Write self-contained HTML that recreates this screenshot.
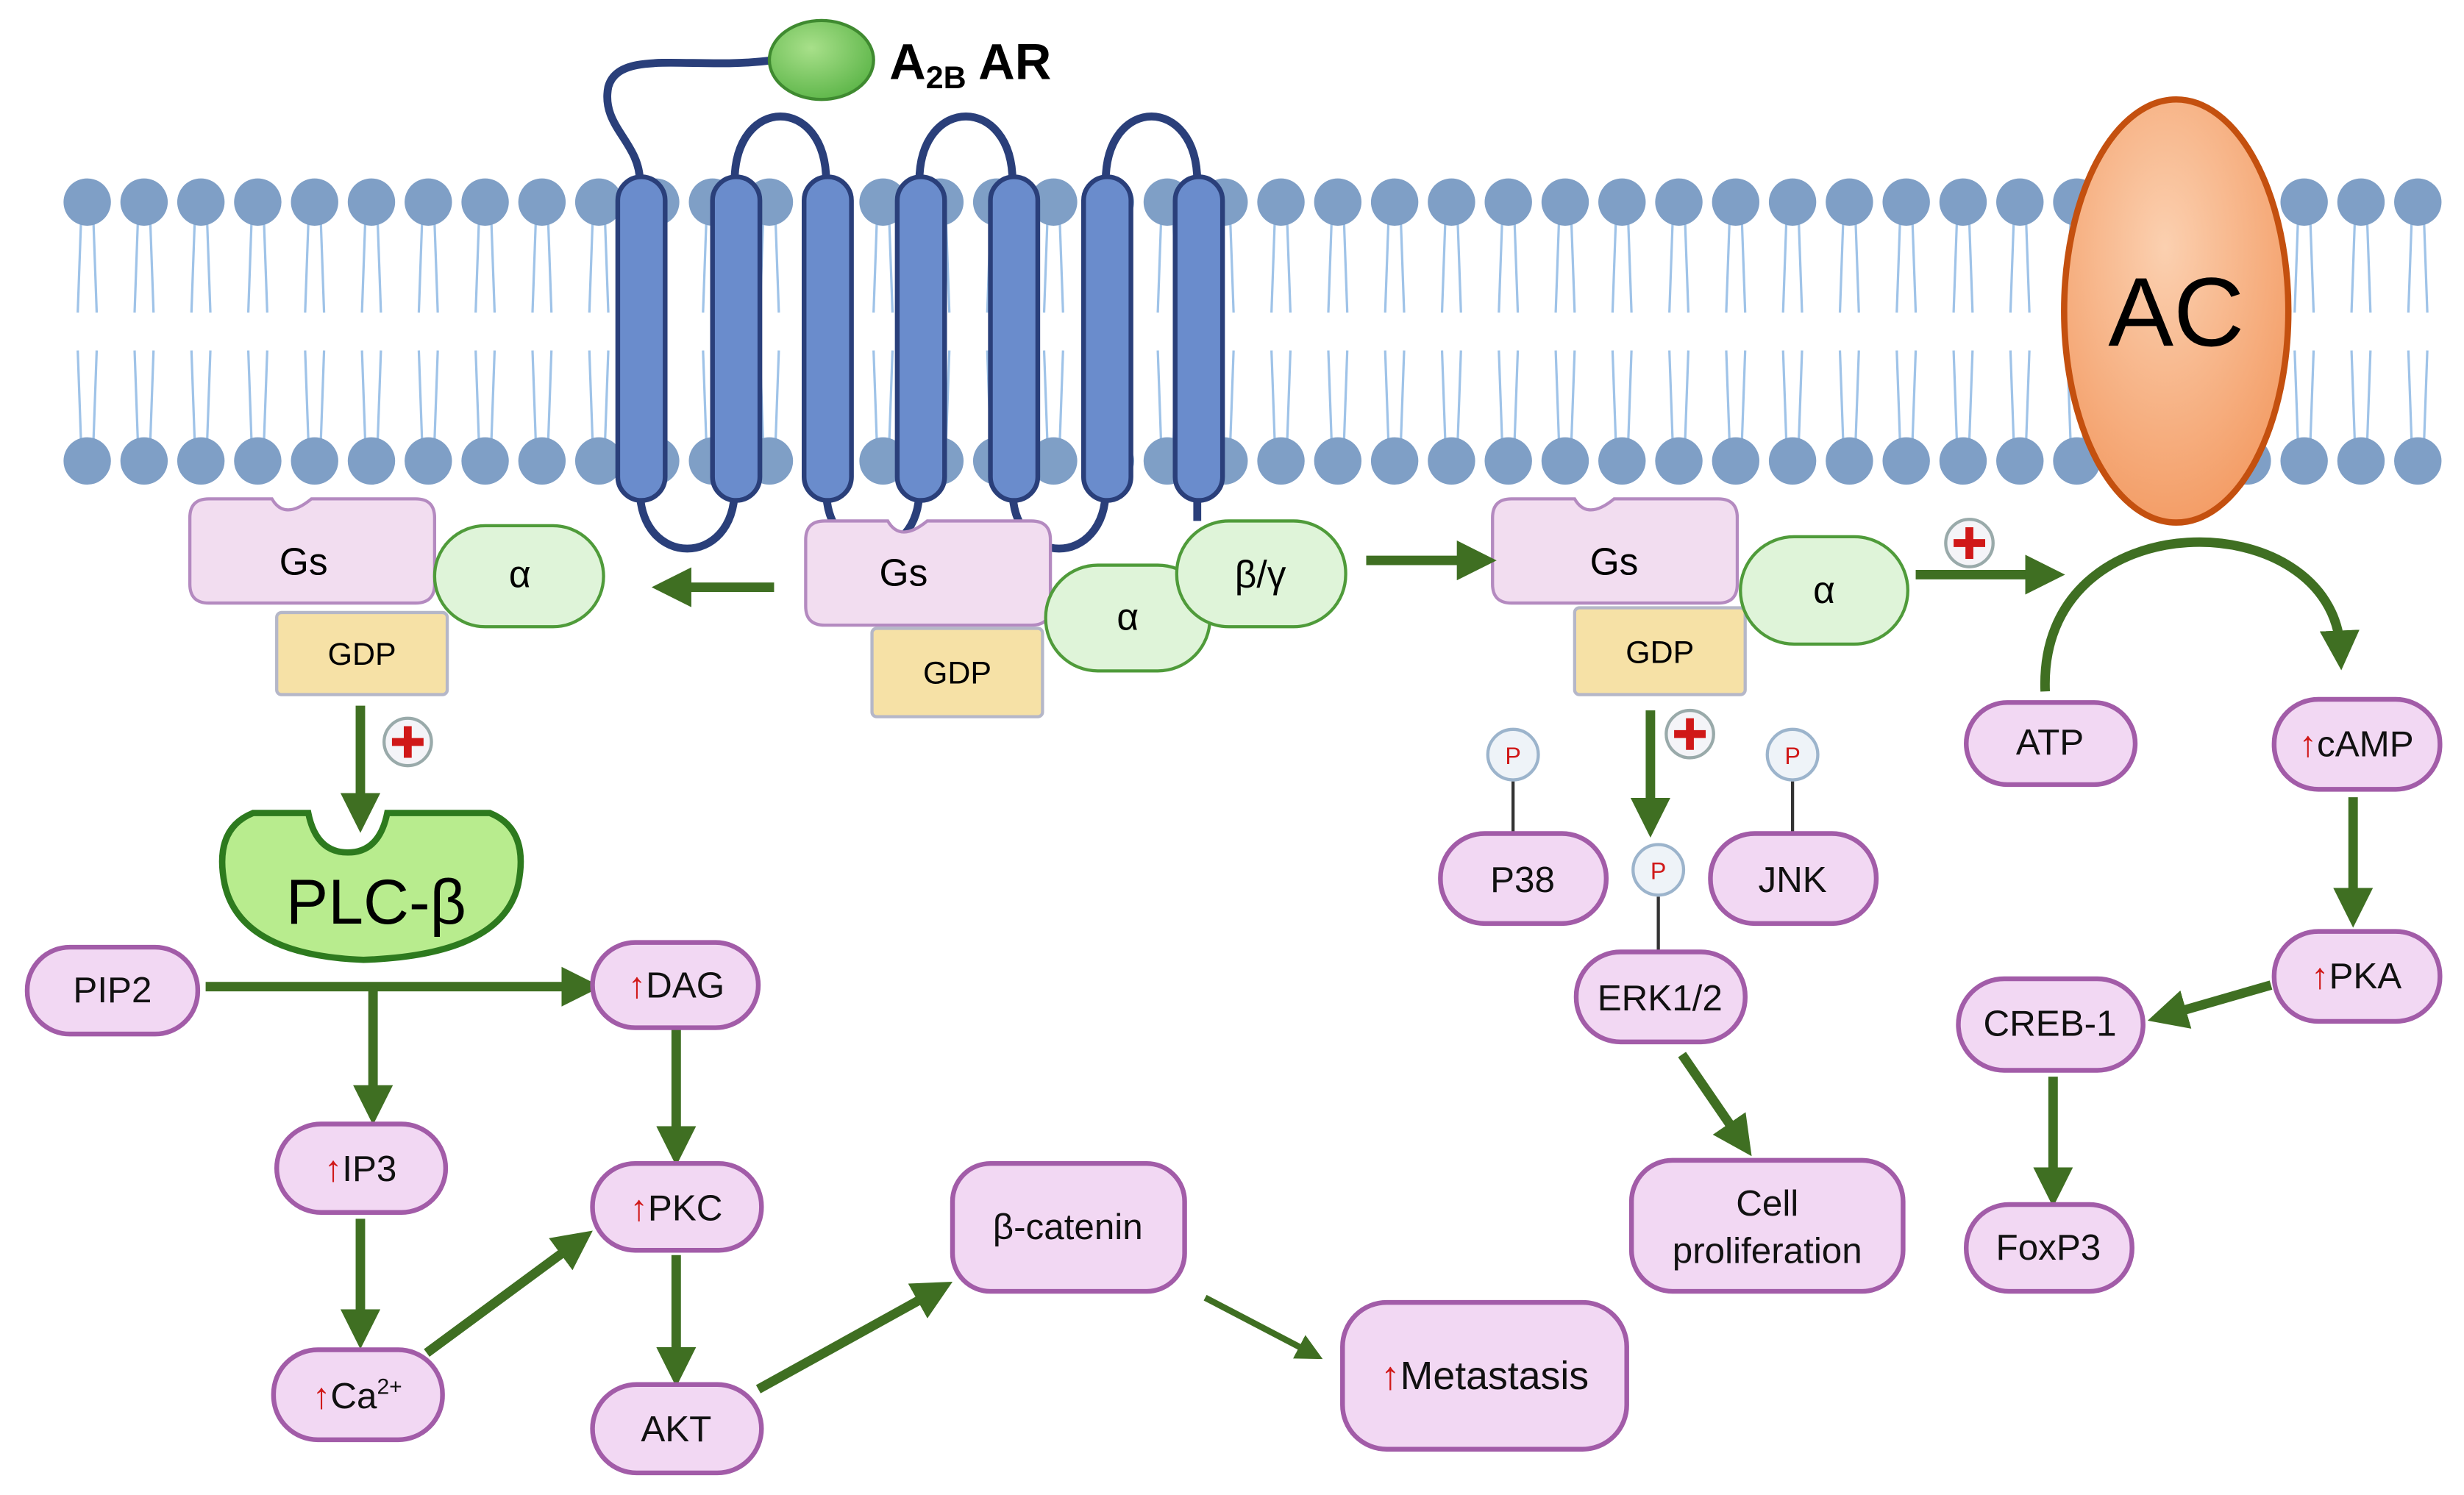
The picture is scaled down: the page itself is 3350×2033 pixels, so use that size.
<!DOCTYPE html>
<html><head><meta charset="utf-8"><style>
html,body{margin:0;padding:0;background:#fff;}
svg{display:block;}
text{font-family:"Liberation Sans",sans-serif;}
.r{fill:#d01818;font-weight:bold;}
</style></head><body>
<svg width="3350" height="2033" viewBox="0 0 1560 947" xmlns="http://www.w3.org/2000/svg">
<defs>
<marker id="ah" viewBox="0 0 10 10" refX="5" refY="5" markerWidth="4.2" markerHeight="4.2" orient="auto-start-reverse" markerUnits="strokeWidth"><path d="M0,0 L10,5 L0,10 z" fill="#3f6f22"/></marker>
<radialGradient id="acg" cx="0.45" cy="0.35" r="0.7"><stop offset="0" stop-color="#fbd0b0"/><stop offset="1" stop-color="#f39a62"/></radialGradient>
<radialGradient id="gb" cx="0.4" cy="0.35" r="0.7"><stop offset="0" stop-color="#a8e08a"/><stop offset="1" stop-color="#5cb548"/></radialGradient>
<g id="lip">
<line x1="-4" y1="14" x2="-6" y2="70" stroke="#9fc3e8" stroke-width="1.5"/>
<line x1="4" y1="14" x2="6" y2="70" stroke="#9fc3e8" stroke-width="1.5"/>
<line x1="-4" y1="150" x2="-6" y2="94" stroke="#9fc3e8" stroke-width="1.5"/>
<line x1="4" y1="150" x2="6" y2="94" stroke="#9fc3e8" stroke-width="1.5"/>
<circle cx="0" cy="0" r="15" fill="#7f9fc6"/>
<circle cx="0" cy="164" r="15" fill="#7f9fc6"/>
</g>
</defs>
<g transform="translate(0,128)">
<use href="#lip" x="55"/><use href="#lip" x="91"/><use href="#lip" x="127"/><use href="#lip" x="163"/><use href="#lip" x="199"/><use href="#lip" x="235"/><use href="#lip" x="271"/><use href="#lip" x="307"/><use href="#lip" x="343"/><use href="#lip" x="379"/><use href="#lip" x="415"/><use href="#lip" x="451"/><use href="#lip" x="487"/><use href="#lip" x="523"/><use href="#lip" x="559"/><use href="#lip" x="595"/><use href="#lip" x="631"/><use href="#lip" x="667"/><use href="#lip" x="703"/><use href="#lip" x="739"/><use href="#lip" x="775"/><use href="#lip" x="811"/><use href="#lip" x="847"/><use href="#lip" x="883"/><use href="#lip" x="919"/><use href="#lip" x="955"/><use href="#lip" x="991"/><use href="#lip" x="1027"/><use href="#lip" x="1063"/><use href="#lip" x="1099"/><use href="#lip" x="1135"/><use href="#lip" x="1171"/><use href="#lip" x="1207"/><use href="#lip" x="1243"/><use href="#lip" x="1279"/><use href="#lip" x="1315"/><use href="#lip" x="1351"/><use href="#lip" x="1387"/><use href="#lip" x="1423"/><use href="#lip" x="1459"/><use href="#lip" x="1495"/><use href="#lip" x="1531"/>
</g>
<g fill="none" stroke="#2a3f7a" stroke-width="5">
<path d="M405 115 C405 90 380 80 385 55 C392 30 440 45 490 38"/>
<path d="M465 115 C465 60 523 60 523 115"/>
<path d="M582 115 C582 60 641 60 641 115"/>
<path d="M700 115 C700 60 758 60 758 115"/>
<path d="M405 310 C405 360 465 360 465 310"/>
<path d="M523 310 C523 360 582 360 582 310"/>
<path d="M641 310 C641 360 700 360 700 310"/>
<path d="M758 310 L758 330"/>
</g>
<g fill="#6a8ccc" stroke="#2a3f7a" stroke-width="3">
<rect x="391" y="112" width="30" height="205" rx="15"/>
<rect x="451" y="112" width="30" height="205" rx="15"/>
<rect x="509" y="112" width="30" height="205" rx="15"/>
<rect x="568" y="112" width="30" height="205" rx="15"/>
<rect x="627" y="112" width="30" height="205" rx="15"/>
<rect x="686" y="112" width="30" height="205" rx="15"/>
<rect x="744" y="112" width="30" height="205" rx="15"/>
</g>
<ellipse cx="520" cy="38" rx="33" ry="25" fill="url(#gb)" stroke="#3f8a30" stroke-width="2"/>
<text x="563" y="50" font-size="32" font-weight="bold">A<tspan font-size="20" dy="6">2B</tspan><tspan dy="-6"> AR</tspan></text>
<ellipse cx="1378" cy="197" rx="71" ry="134" fill="url(#acg)" stroke="#c4500f" stroke-width="4"/>
<text x="1378" y="219" font-size="62" text-anchor="middle">AC</text>

<g stroke="#b48ac0" stroke-width="2" fill="#f2ddf0">
<path d="M120 328 q0 -12 12 -12 h40 q8 14 25 0 h66 q12 0 12 12 v42 q0 12 -12 12 h-131 q-12 0 -12 -12z"/>
<path d="M510 342 q0 -12 12 -12 h40 q8 14 25 0 h66 q12 0 12 12 v42 q0 12 -12 12 h-131 q-12 0 -12 -12z"/>
<path d="M945 328 q0 -12 12 -12 h40 q8 14 25 0 h66 q12 0 12 12 v42 q0 12 -12 12 h-131 q-12 0 -12 -12z"/>
</g>
<g fill="#f6e1a6" stroke="#b5b7c8" stroke-width="2">
<rect x="175" y="388" width="108" height="52" rx="3"/>
<rect x="552" y="398" width="108" height="56" rx="3"/>
<rect x="997" y="385" width="108" height="55" rx="3"/>
</g>
<g fill="#dff4d9" stroke="#4f9b3a" stroke-width="2">
<rect x="275" y="333" width="107" height="64" rx="32"/>
<rect x="662" y="358" width="104" height="67" rx="33"/>
<rect x="745" y="330" width="107" height="67" rx="33"/>
<rect x="1102" y="340" width="106" height="68" rx="34"/>
</g>
<g font-size="24" text-anchor="middle">
<text x="192" y="364">Gs</text><text x="572" y="371">Gs</text><text x="1022" y="364">Gs</text>
<text x="329" y="372">α</text><text x="714" y="399">α</text><text x="798" y="372">β/γ</text><text x="1155" y="382">α</text>
<text x="229" y="421" font-size="20">GDP</text><text x="606" y="433" font-size="20">GDP</text><text x="1051" y="420" font-size="20">GDP</text>
</g>

<path d="M160 515 q-25 10 -18 45 q10 45 88 48 q88 -3 98 -48 q7 -35 -18 -45 h-65 q-5 25 -25 25 q-20 0 -25 -25z" fill="#b8ec8e" stroke="#2d7a1e" stroke-width="4"/>
<text x="238" y="585" font-size="40" text-anchor="middle">PLC-β</text>

<g stroke="#3f6f22" stroke-width="6" fill="none" marker-end="url(#ah)">
<line x1="490" y1="372" x2="425" y2="372"/>
<line x1="865" y1="355" x2="935" y2="355"/>
<line x1="1213" y1="364" x2="1295" y2="364"/>
<path d="M1295 438 C1290 315 1478 318 1482 412"/>
<line x1="228" y1="447" x2="228" y2="515"/>
<line x1="130" y1="625" x2="368" y2="625"/>
<line x1="236" y1="625" x2="236" y2="700"/>
<line x1="428" y1="652" x2="428" y2="726"/>
<line x1="228" y1="772" x2="228" y2="842"/>
<line x1="270" y1="857" x2="365" y2="787"/>
<line x1="428" y1="795" x2="428" y2="866"/>
<line x1="480" y1="880" x2="592" y2="818"/>
<line x1="1045" y1="450" x2="1045" y2="518"/>
<line x1="1065" y1="668" x2="1102" y2="722"/>
<line x1="1490" y1="505" x2="1490" y2="575"/>
<line x1="1438" y1="624" x2="1372" y2="643"/>
<line x1="1300" y1="682" x2="1300" y2="752"/>
</g>
<line x1="763" y1="822" x2="830" y2="857" stroke="#3f6f22" stroke-width="4" marker-end="url(#ah)"/>

<g>
<circle cx="258" cy="470" r="15" fill="#f4f4f8" stroke="#9aa" stroke-width="2"/><path d="M248 470h20M258 460v20" stroke="#d01818" stroke-width="5"/>
<circle cx="1070" cy="465" r="15" fill="#f4f4f8" stroke="#9aa" stroke-width="2"/><path d="M1060 465h20M1070 455v20" stroke="#d01818" stroke-width="5"/>
<circle cx="1247" cy="344" r="15" fill="#f4f4f8" stroke="#9aa" stroke-width="2"/><path d="M1237 344h20M1247 334v20" stroke="#d01818" stroke-width="5"/>
</g>

<g stroke="#333" stroke-width="2">
<line x1="958" y1="495" x2="958" y2="528"/><line x1="1135" y1="495" x2="1135" y2="528"/><line x1="1050" y1="568" x2="1050" y2="603"/>
</g>
<g fill="#eef3f8" stroke="#9cb4cc" stroke-width="2">
<circle cx="958" cy="478" r="16"/><circle cx="1135" cy="478" r="16"/><circle cx="1050" cy="551" r="16"/>
</g>
<g fill="#d01818" font-size="15" text-anchor="middle"><text x="958" y="484">P</text><text x="1135" y="484">P</text><text x="1050" y="557">P</text></g>

<g fill="#f2d8f3" stroke="#a25ca8" stroke-width="3">
<rect x="17" y="600" width="108" height="55" rx="27"/>
<rect x="375" y="597" width="105" height="54" rx="27"/>
<rect x="175" y="712" width="107" height="56" rx="28"/>
<rect x="375" y="737" width="107" height="55" rx="27"/>
<rect x="173" y="855" width="107" height="57" rx="28"/>
<rect x="375" y="877" width="107" height="56" rx="28"/>
<rect x="603" y="737" width="147" height="81" rx="24"/>
<rect x="850" y="825" width="180" height="93" rx="28"/>
<rect x="912" y="528" width="105" height="57" rx="28"/>
<rect x="1083" y="528" width="105" height="57" rx="28"/>
<rect x="998" y="603" width="107" height="57" rx="28"/>
<rect x="1033" y="735" width="172" height="83" rx="26"/>
<rect x="1245" y="445" width="107" height="52" rx="26"/>
<rect x="1440" y="443" width="105" height="57" rx="28"/>
<rect x="1440" y="590" width="105" height="57" rx="28"/>
<rect x="1240" y="620" width="117" height="58" rx="29"/>
<rect x="1245" y="763" width="105" height="55" rx="27"/>
</g>
<g font-size="23" text-anchor="middle" fill="#111">
<text x="71" y="635">PIP2</text>
<text x="428" y="632"><tspan class="r">↑</tspan>DAG</text>
<text x="228" y="748"><tspan class="r">↑</tspan>IP3</text>
<text x="428" y="773"><tspan class="r">↑</tspan>PKC</text>
<text x="226" y="892"><tspan class="r">↑</tspan>Ca<tspan font-size="14" dy="-9">2+</tspan></text>
<text x="428" y="913">AKT</text>
<text x="676" y="785">β-catenin</text>
<text x="940" y="880" font-size="25"><tspan class="r">↑</tspan>Metastasis</text>
<text x="964" y="565">P38</text>
<text x="1135" y="565">JNK</text>
<text x="1051" y="640">ERK1/2</text>
<text x="1119" y="770">Cell</text>
<text x="1119" y="800">proliferation</text>
<text x="1298" y="478">ATP</text>
<text x="1492" y="479"><tspan class="r">↑</tspan>cAMP</text>
<text x="1492" y="626"><tspan class="r">↑</tspan>PKA</text>
<text x="1298" y="656">CREB-1</text>
<text x="1297" y="798">FoxP3</text>
</g>
</svg>
</body></html>
